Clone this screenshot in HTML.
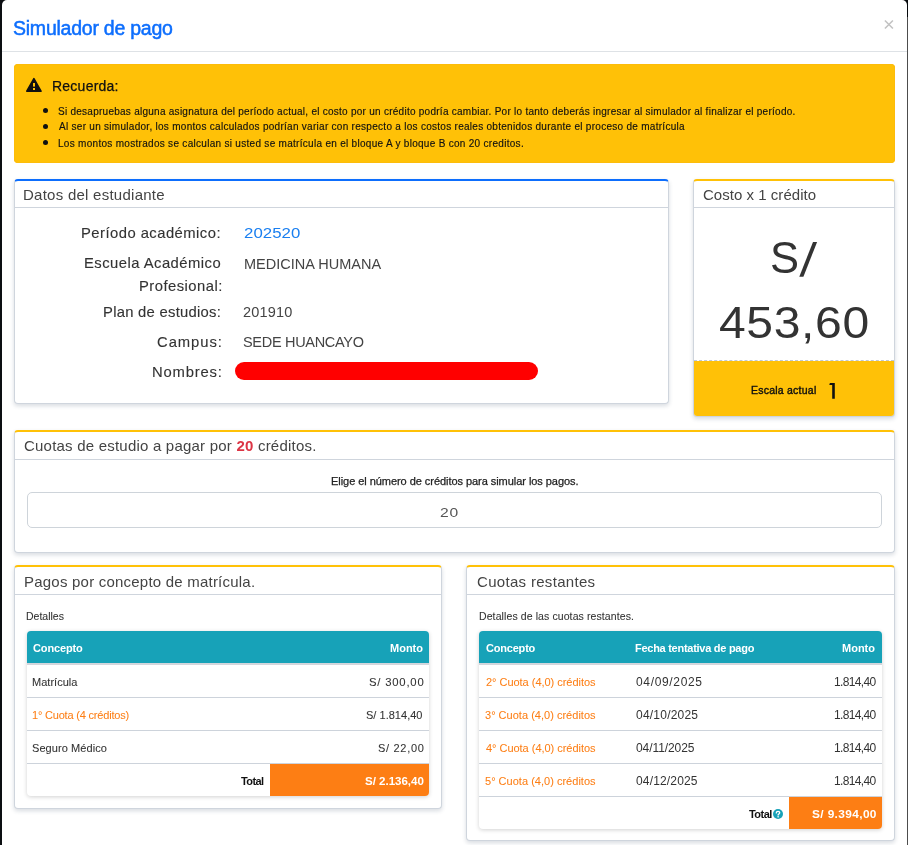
<!DOCTYPE html>
<html>
<head>
<meta charset="utf-8">
<style>
*{box-sizing:border-box;margin:0;padding:0}
html,body{width:908px;height:845px;overflow:hidden;background:#0c0f12}
#rstrip{position:absolute;left:907px;top:0;width:1px;height:845px;background:linear-gradient(#05080b 0,#05080b 17px,#4d4d4d 17px)}
body{font-family:"Liberation Sans",sans-serif;color:#333;position:relative}
.abs{position:absolute}
.t{position:absolute;white-space:nowrap;line-height:1;will-change:transform}
#modal{position:absolute;left:2px;top:0;width:905px;height:860px;background:#fff;border-radius:5px}
#hdrline{position:absolute;left:2px;top:51px;width:905px;height:1px;background:#dee2e6}
.card{position:absolute;background:#fff;border:1px solid #cfd5dd;border-radius:4px;box-shadow:0 2px 4px rgba(40,60,90,.18)}
.card.y{border-top:2px solid #ffc107}
.card.b{border-top:2px solid #0d6efd}
.ch{position:absolute;left:0;right:0;top:0;height:27px;border-bottom:1px solid #cfd5dd}
.tbl{position:absolute;background:#fff;border-radius:4px;box-shadow:0 1px 4px rgba(0,0,0,.18);overflow:hidden}
.th{position:absolute;left:0;right:0;top:0;height:34px;background:#17a2b8;border-bottom:2px solid #d3d6dc}
.rl{position:absolute;left:0;right:0;height:1px;background:#cdd3db}
.lbl{position:absolute;right:688px;white-space:nowrap;line-height:1;font-size:15px;color:#333}
.val{position:absolute;left:245px;white-space:nowrap;line-height:1;font-size:15px;color:#444}
.thd{font-size:11px;font-weight:bold;color:#fff}
.td{font-size:11px;color:#333}
.td2{font-size:13px;color:#333}
.or{color:#fd7e14}
</style>
</head>
<body><div id="rstrip"></div>
<div id="modal"></div>
<div id="hdrline"></div>
<svg class="abs" style="left:884px;top:19px" width="11" height="11" viewBox="0 0 11 11"><path d="M0.9 1.5L8.9 9.5M8.9 1.5L0.9 9.5" stroke="#c2c2c2" stroke-width="1.55"/></svg>
<!-- alert -->
<div class="abs" style="left:14px;top:64px;width:881px;height:99px;background:#ffc107;border-radius:4px;box-shadow:inset 0 0 0 1px #fdbc0a"></div>
<svg class="abs" style="left:26px;top:77px" width="16" height="16" viewBox="0 0 16 16"><path d="M7.9 1.6 L15 14.2 L0.8 14.2 Z" fill="#111" stroke="#111" stroke-width="1.6" stroke-linejoin="round"/><rect x="7" y="6" width="2" height="3.6" fill="#ffc107"/><rect x="7" y="11" width="2" height="2" fill="#ffc107"/></svg>
<div class="abs" style="left:43px;top:108px;width:5px;height:5px;border-radius:50%;background:#111"></div>
<div class="abs" style="left:43px;top:124px;width:5px;height:5px;border-radius:50%;background:#111"></div>
<div class="abs" style="left:43px;top:140px;width:5px;height:5px;border-radius:50%;background:#111"></div>
<!-- Datos card -->
<div class="card b" style="left:14px;top:179px;width:655px;height:225px"><div class="ch"></div></div>
<div class="abs" style="left:235px;top:362px;width:303px;height:18px;border-radius:9px;background:#ff0000"></div>
<!-- Costo card -->
<div class="card y" style="left:693px;top:179px;width:202px;height:238px;overflow:hidden"><div class="ch"></div>
<div class="abs" style="left:0;right:0;top:179px;height:60px;background:#ffc107;background-clip:padding-box;border-top:1px dashed #bfc8d6"></div></div>
<svg class="abs" style="left:828px;top:382px" width="9" height="18" viewBox="0 0 9 18"><polygon points="1.9,1.1 6.8,1.1 6.8,16.7 4.2,16.7 4.2,3 1.3,3" fill="#111"/></svg>
<svg class="abs" style="left:795px;top:238px" width="26" height="42" viewBox="795 238 26 42"><polygon points="799.3,276.8 803.4,276.8 817.1,241.9 813.0,241.9" fill="#333"/></svg>
<!-- Cuotas estudio card -->
<div class="card y" style="left:14px;top:430px;width:881px;height:123px"><div class="ch" style="height:28px"></div></div>
<div class="abs" style="left:27px;top:492px;width:855px;height:36px;border:1px solid #ced4da;border-radius:5px"></div>
<!-- Pagos card -->
<div class="card y" style="left:14px;top:565px;width:428px;height:244px"><div class="ch" style="height:28px"></div></div>
<div class="tbl" style="left:27px;top:631px;width:402px;height:165px">
  <div class="th"></div>
  <div class="rl" style="top:66px"></div>
  <div class="rl" style="top:99px"></div>
  <div class="rl" style="top:132px"></div>
  <div class="abs" style="left:243px;right:0;top:133px;bottom:0;background:#fd7e14"></div>
</div>
<!-- Cuotas restantes card -->
<div class="card y" style="left:466px;top:565px;width:429px;height:276px"><div class="ch" style="height:28px"></div></div>
<div class="tbl" style="left:479px;top:631px;width:403px;height:198px">
  <div class="th"></div>
  <div class="rl" style="top:66px"></div>
  <div class="rl" style="top:99px"></div>
  <div class="rl" style="top:132px"></div>
  <div class="rl" style="top:165px"></div>
  <div class="abs" style="left:310px;right:0;top:166px;bottom:0;background:#fd7e14"></div>
</div>
<svg class="abs" style="left:772.7px;top:808.9px" width="10" height="10" viewBox="0 0 10 10"><circle cx="5" cy="5" r="5" fill="#17a2b8"/><path d="M3.3 3.9C3.3 2.9 4.1 2.4 5 2.4C5.9 2.4 6.7 2.9 6.7 3.8C6.7 4.9 5.1 5 5.1 6.1" stroke="#fff" stroke-width="1.35" fill="none" stroke-linecap="round"/><circle cx="5.1" cy="7.85" r=".8" fill="#fff"/></svg>

<div class="t" id="title" style="left:13.00px;top:19.01px;font-size:19.5px;font-weight:400;color:#0d6efd;letter-spacing:-0.235px;-webkit-text-stroke:.5px #0d6efd">Simulador de pago</div>
<div class="t" id="recuerda" style="left:51.60px;top:78.71px;font-size:14px;font-weight:400;color:#111;letter-spacing:0.236px;-webkit-text-stroke:.25px #111">Recuerda:</div>
<div class="t" id="b1" style="left:58.00px;top:106.71px;font-size:10px;font-weight:400;color:#111;letter-spacing:0.260px;-webkit-text-stroke:.15px #111">Si desapruebas alguna asignatura del período actual, el costo por un crédito podría cambiar. Por lo tanto deberás ingresar al simulador al finalizar el período.</div>
<div class="t" id="b2" style="left:59.00px;top:122.40px;font-size:10px;font-weight:400;color:#111;letter-spacing:0.282px;-webkit-text-stroke:.15px #111">Al ser un simulador, los montos calculados podrían variar con respecto a los costos reales obtenidos durante el proceso de matrícula</div>
<div class="t" id="b3" style="left:58.00px;top:138.90px;font-size:10px;font-weight:400;color:#111;letter-spacing:0.294px;-webkit-text-stroke:.15px #111">Los montos mostrados se calculan si usted se matrícula en el bloque A y bloque B con 20 creditos.</div>
<div class="t" id="h_datos" style="left:23.20px;top:187.00px;font-size:15px;font-weight:400;color:#444;letter-spacing:0.255px;">Datos del estudiante</div>
<div class="t" id="l1" style="left:81.40px;top:225.81px;font-size:14.8px;font-weight:400;color:#333;letter-spacing:0.466px;-webkit-text-stroke:.12px #333">Período académico:</div>
<div class="t" id="v1" style="left:244.00px;top:224.81px;font-size:15.3px;font-weight:400;color:#1a7ff0;letter-spacing:0.027px;transform:scaleX(1.1);transform-origin:0 0">202520</div>
<div class="t" id="l2a" style="left:84.00px;top:256.31px;font-size:14.8px;font-weight:400;color:#333;letter-spacing:0.470px;-webkit-text-stroke:.12px #333">Escuela Académico</div>
<div class="t" id="l2b" style="left:138.60px;top:278.81px;font-size:14.8px;font-weight:400;color:#333;letter-spacing:0.472px;-webkit-text-stroke:.12px #333">Profesional:</div>
<div class="t" id="v2" style="left:244.00px;top:256.51px;font-size:14.5px;font-weight:400;color:#444;letter-spacing:0.016px;">MEDICINA HUMANA</div>
<div class="t" id="l3" style="left:103.20px;top:305.10px;font-size:14.8px;font-weight:400;color:#333;letter-spacing:0.274px;-webkit-text-stroke:.12px #333">Plan de estudios:</div>
<div class="t" id="v3" style="left:243.00px;top:305.10px;font-size:14.5px;font-weight:400;color:#444;letter-spacing:0.167px;">201910</div>
<div class="t" id="l4" style="left:156.80px;top:335.40px;font-size:14.8px;font-weight:400;color:#333;letter-spacing:0.951px;-webkit-text-stroke:.12px #333">Campus:</div>
<div class="t" id="v4" style="left:243.00px;top:335.40px;font-size:14.5px;font-weight:400;color:#444;letter-spacing:-0.308px;">SEDE HUANCAYO</div>
<div class="t" id="l5" style="left:151.80px;top:365.40px;font-size:14.8px;font-weight:400;color:#333;letter-spacing:0.825px;-webkit-text-stroke:.12px #333">Nombres:</div>
<div class="t" id="h_costo" style="left:702.80px;top:186.71px;font-size:15px;font-weight:400;color:#444;letter-spacing:0.030px;">Costo x 1 crédito</div>
<div class="t" id="s1" style="left:770.00px;top:237.40px;font-size:43.5px;font-weight:400;color:#333;letter-spacing:5.500px;">S</div>
<div class="t" id="s2" style="left:718.80px;top:300.81px;font-size:44.5px;font-weight:400;color:#333;letter-spacing:0.583px;transform:scaleX(1.08);transform-origin:0 0">453,60</div>
<div class="t" id="esc" style="left:751.40px;top:384.50px;font-size:10.5px;font-weight:400;color:#111;letter-spacing:0.231px;-webkit-text-stroke:.4px #111">Escala actual</div>
<div class="t" id="h_cuotas" style="left:23.60px;top:438.41px;font-size:15px;font-weight:400;color:#444;letter-spacing:0.214px;">Cuotas de estudio a pagar por <b style='color:#dc3545'>20</b> créditos.</div>
<div class="t" id="elige" style="left:330.80px;top:476.00px;font-size:11px;font-weight:400;color:#222;letter-spacing:-0.050px;-webkit-text-stroke:.25px #222">Elige el número de créditos para simular los pagos.</div>
<div class="t" id="inp" style="left:439.60px;top:505.81px;font-size:13.6px;font-weight:400;color:#555;letter-spacing:0.650px;transform:scaleX(1.15);transform-origin:0 0">20</div>
<div class="t" id="h_pagos" style="left:23.60px;top:574.21px;font-size:15px;font-weight:400;color:#444;letter-spacing:0.218px;">Pagos por concepto de matrícula.</div>
<div class="t" id="det1" style="left:26.40px;top:611.11px;font-size:10.5px;font-weight:400;color:#333;letter-spacing:0.000px;-webkit-text-stroke:.08px #333">Detalles</div>
<div class="t" id="c1" style="left:33.00px;top:643.00px;font-size:11px;font-weight:700;color:#fff;letter-spacing:-0.142px;">Concepto</div>
<div class="t" id="m1" style="left:390.20px;top:643.00px;font-size:11px;font-weight:700;color:#fff;letter-spacing:0.000px;">Monto</div>
<div class="t" id="r1a" style="left:32.00px;top:677.00px;font-size:11px;font-weight:400;color:#333;letter-spacing:0.021px;-webkit-text-stroke:.08px #333">Matrícula</div>
<div class="t" id="r1b" style="left:368.60px;top:677.00px;font-size:11.3px;font-weight:400;color:#333;letter-spacing:0.792px;-webkit-text-stroke:.08px #333">S/ 300,00</div>
<div class="t" id="r2a" style="left:32.00px;top:710.00px;font-size:11px;font-weight:400;color:#fd7e14;letter-spacing:-0.191px;-webkit-text-stroke:.05px #fd7e14">1° Cuota (4 créditos)</div>
<div class="t" id="r2b" style="left:366.20px;top:710.00px;font-size:11px;font-weight:400;color:#333;letter-spacing:0.020px;-webkit-text-stroke:.08px #333">S/ 1.814,40</div>
<div class="t" id="r3a" style="left:32.00px;top:743.21px;font-size:11px;font-weight:400;color:#333;letter-spacing:0.077px;-webkit-text-stroke:.08px #333">Seguro Médico</div>
<div class="t" id="r3b" style="left:377.60px;top:743.21px;font-size:11px;font-weight:400;color:#333;letter-spacing:0.692px;-webkit-text-stroke:.08px #333">S/ 22,00</div>
<div class="t" id="tot1" style="left:241.00px;top:775.91px;font-size:11px;font-weight:700;color:#111;letter-spacing:-0.600px;">Total</div>
<div class="t" id="tot1v" style="left:364.80px;top:776.00px;font-size:11px;font-weight:700;color:#fff;letter-spacing:-0.021px;transform:scaleX(1.05);transform-origin:0 0">S/ 2.136,40</div>
<div class="t" id="h_rest" style="left:476.80px;top:573.71px;font-size:15px;font-weight:400;color:#444;letter-spacing:0.313px;">Cuotas restantes</div>
<div class="t" id="det2" style="left:478.80px;top:611.00px;font-size:10.5px;font-weight:400;color:#333;letter-spacing:0.100px;-webkit-text-stroke:.08px #333">Detalles de las cuotas restantes.</div>
<div class="t" id="c2" style="left:486.40px;top:643.00px;font-size:11px;font-weight:700;color:#fff;letter-spacing:-0.200px;">Concepto</div>
<div class="t" id="f2" style="left:634.80px;top:643.00px;font-size:11px;font-weight:700;color:#fff;letter-spacing:-0.271px;">Fecha tentativa de pago</div>
<div class="t" id="m2" style="left:842.20px;top:643.00px;font-size:11px;font-weight:700;color:#fff;letter-spacing:0.000px;">Monto</div>
<div class="t" id="q0a" style="left:486.00px;top:677.00px;font-size:11px;font-weight:400;color:#fd7e14;letter-spacing:-0.027px;-webkit-text-stroke:.05px #fd7e14">2° Cuota (4,0) créditos</div>
<div class="t" id="q0b" style="left:636.00px;top:676.01px;font-size:12px;font-weight:400;color:#333;letter-spacing:0.660px;">04/09/2025</div>
<div class="t" id="q0c" style="left:834.40px;top:676.01px;font-size:12px;font-weight:400;color:#333;letter-spacing:-0.650px;">1.814,40</div>
<div class="t" id="q1a" style="left:485.00px;top:710.00px;font-size:11px;font-weight:400;color:#fd7e14;letter-spacing:0.017px;-webkit-text-stroke:.05px #fd7e14">3° Cuota (4,0) créditos</div>
<div class="t" id="q1b" style="left:636.00px;top:709.01px;font-size:12px;font-weight:400;color:#333;letter-spacing:0.220px;">04/10/2025</div>
<div class="t" id="q1c" style="left:834.40px;top:709.01px;font-size:12px;font-weight:400;color:#333;letter-spacing:-0.650px;">1.814,40</div>
<div class="t" id="q2a" style="left:486.00px;top:743.00px;font-size:11px;font-weight:400;color:#fd7e14;letter-spacing:-0.027px;-webkit-text-stroke:.05px #fd7e14">4° Cuota (4,0) créditos</div>
<div class="t" id="q2b" style="left:636.00px;top:742.01px;font-size:12px;font-weight:400;color:#333;letter-spacing:-0.080px;">04/11/2025</div>
<div class="t" id="q2c" style="left:834.40px;top:742.01px;font-size:12px;font-weight:400;color:#333;letter-spacing:-0.650px;">1.814,40</div>
<div class="t" id="q3a" style="left:485.00px;top:776.00px;font-size:11px;font-weight:400;color:#fd7e14;letter-spacing:0.017px;-webkit-text-stroke:.05px #fd7e14">5° Cuota (4,0) créditos</div>
<div class="t" id="q3b" style="left:636.00px;top:775.01px;font-size:12px;font-weight:400;color:#333;letter-spacing:0.160px;">04/12/2025</div>
<div class="t" id="q3c" style="left:834.40px;top:775.01px;font-size:12px;font-weight:400;color:#333;letter-spacing:-0.650px;">1.814,40</div>
<div class="t" id="tot2" style="left:748.60px;top:808.81px;font-size:11px;font-weight:700;color:#111;letter-spacing:-0.540px;">Total</div>
<div class="t" id="tot2v" style="left:812.40px;top:808.81px;font-size:11px;font-weight:700;color:#fff;letter-spacing:0.343px;transform:scaleX(1.08);transform-origin:0 0">S/ 9.394,00</div>
</body></html>
